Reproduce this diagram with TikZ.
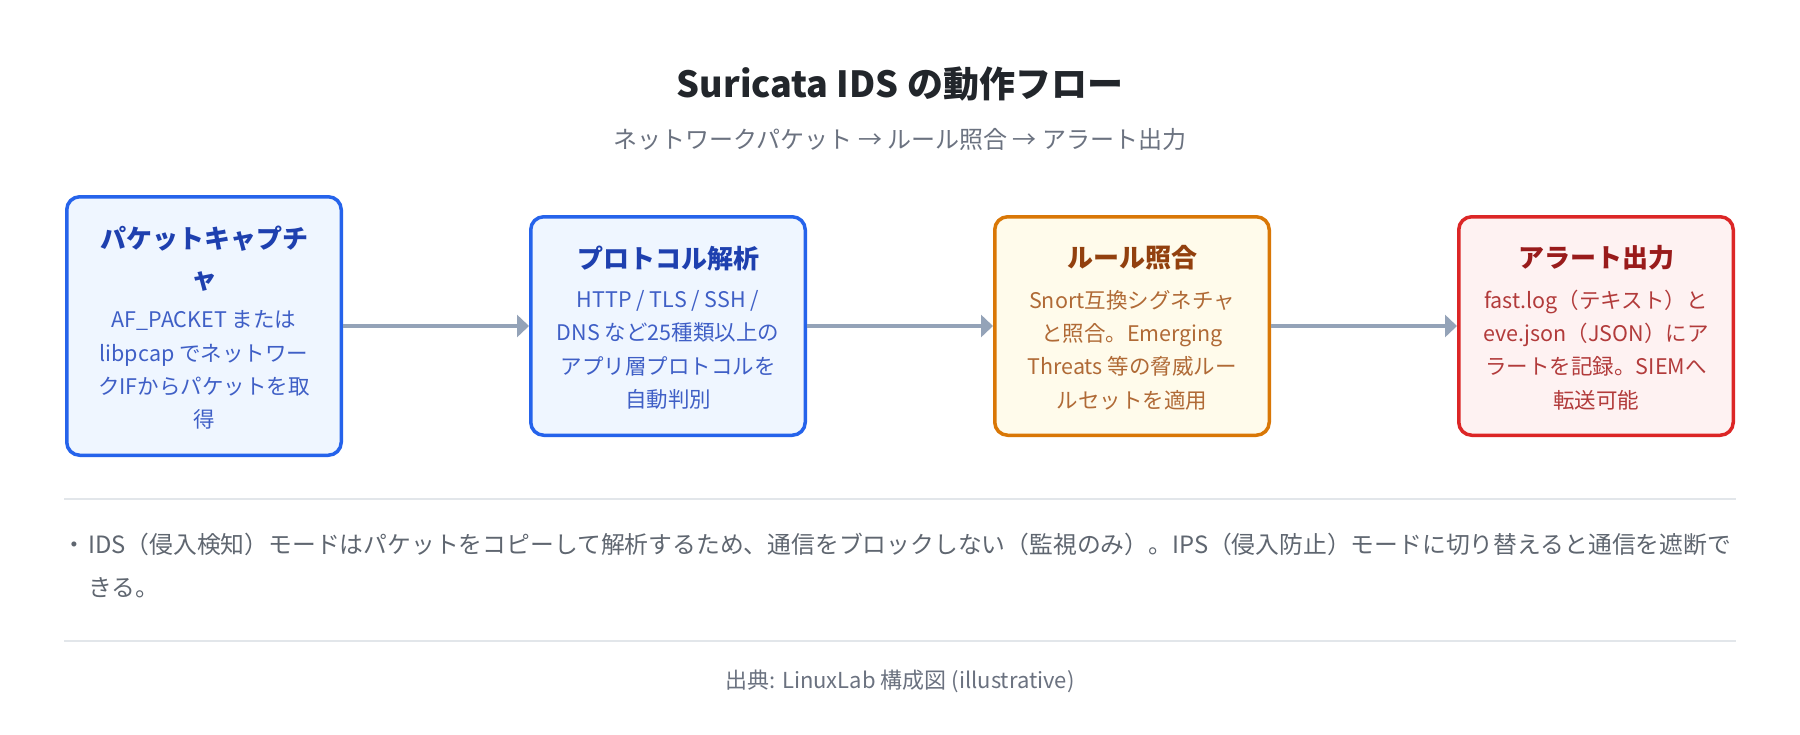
\documentclass[tikz,border=0pt]{standalone}
\usepackage{fontspec}
\setmainfont{Noto Sans CJK JP}
\usepackage{tikz}
\usetikzlibrary{arrows.meta,positioning}
\definecolor{bluebd}{HTML}{2563EB}
\definecolor{bluebg}{HTML}{EFF6FF}
\definecolor{bluetitle}{HTML}{1E40AF}
\definecolor{bluetext}{HTML}{3F5FC6}
\definecolor{amberbd}{HTML}{D97706}
\definecolor{amberbg}{HTML}{FFFBEB}
\definecolor{ambertitle}{HTML}{92400E}
\definecolor{ambertext}{HTML}{B06A36}
\definecolor{redbd}{HTML}{DC2626}
\definecolor{redbg}{HTML}{FEF2F2}
\definecolor{redtitle}{HTML}{991B1B}
\definecolor{redtext}{HTML}{B23B3B}
\definecolor{arrowgray}{HTML}{94A3B8}
\definecolor{rulegray}{HTML}{E2E6EA}
\definecolor{headtext}{HTML}{22262B}
\definecolor{subtext}{HTML}{6B7280}
\definecolor{notetext}{HTML}{5F6670}
\tikzset{
  stage/.style={draw=#1bd, fill=#1bg, line width=3.5pt, rounded corners=13pt,
    minimum width=274.5pt, minimum height=218.5pt, inner sep=0pt},
  stagetitle/.style={text=#1title, font=\fontsize{26}{40}\selectfont\bfseries,
    align=center, inner sep=0pt},
  stagebody/.style={text=#1text, font=\fontsize{21.5}{33.3}\selectfont,
    align=center, inner sep=0pt},
  flow/.style={draw=arrowgray, line width=4pt, -{Triangle[length=12pt,width=22pt]}},
  sepline/.style={draw=rulegray, line width=2pt},
}

\begin{document}
\begin{tikzpicture}[x=1pt,y=-1pt]
\useasboundingbox (0,0) rectangle (1800,734);
\fill[white] (0,0) rectangle (1800,734);

% heading
\node[text=headtext, font=\fontsize{36}{40}\selectfont\bfseries] (head) at (900,84) {Suricata IDS の動作フロー};
\node[text=subtext, font=\fontsize{24}{26}\selectfont] (sub) at (900,139) {ネットワークパケット → ルール照合 → アラート出力};

% stages
\node[stage=blue, minimum height=258.5pt] (capture) at (204,326) {};
\node[stage=blue] (proto) at (668,326) {};
\node[stage=amber] (rules) at (1132,326) {};
\node[stage=red] (alert) at (1596,326) {};

\node[stagetitle=blue] (captureT) at (204,259) {パケットキャプチ\\ャ};
\node[stagebody=blue] (captureB) at (204,370) {AF\_PACKET または\\libpcap でネットワー\\クIFからパケットを取\\得};
\node[stagetitle=blue] (protoT) at (668,258) {プロトコル解析};
\node[stagebody=blue] (protoB) at (668,350) {HTTP / TLS / SSH /\\DNS など25種類以上の\\アプリ層プロトコルを\\自動判別};
\node[stagetitle=amber] (rulesT) at (1132,258) {ルール照合};
\node[stagebody=amber] (rulesB) at (1132,350) {Snort互換シグネチャ\\と照合。Emerging\\Threats 等の脅威ルー\\ルセットを適用};
\node[stagetitle=red] (alertT) at (1596,258) {アラート出力};
\node[stagebody=red] (alertB) at (1596,350) {fast.log（テキスト）と\\eve.json（JSON）にア\\ラートを記録。SIEMへ\\転送可能};

\draw[flow] (capture) -- (proto);
\draw[flow] (proto) -- (rules);
\draw[flow] (rules) -- (alert);

% note
\draw[sepline] (64,499) -- (1736,499);
\node[text=notetext, font=\fontsize{23.8}{26}\selectfont, inner sep=0pt, anchor=base] (dot) at (74,553) {・};
\node[text=notetext, font=\fontsize{23.8}{43}\selectfont, align=left, anchor=west, inner sep=0pt] (note) at (88,565.5)
  {IDS（侵入検知）モードはパケットをコピーして解析するため、通信をブロックしない（監視のみ）。IPS（侵入防止）モードに切り替えると通信を遮断で\\きる。};
\draw[sepline] (64,641) -- (1736,641);

% source
\node[text=subtext, font=\fontsize{22}{26}\selectfont] (src) at (900,681) {出典: LinuxLab 構成図 (illustrative)};
\end{tikzpicture}
\end{document}
